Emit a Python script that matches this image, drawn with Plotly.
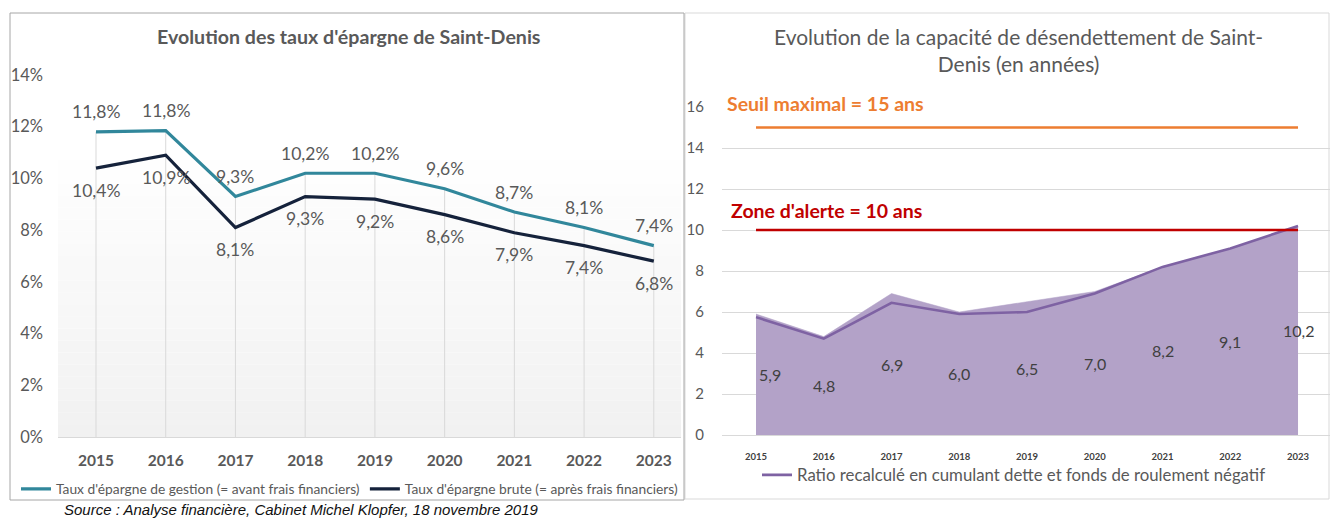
import plotly.graph_objects as go

# ---------------- data ----------------
years = [2015, 2016, 2017, 2018, 2019, 2020, 2021, 2022, 2023]

# left chart: savings rates (%)
taux_gestion = [11.8, 11.85, 9.3, 10.2, 10.2, 9.6, 8.7, 8.1, 7.4]
taux_brute = [10.4, 10.9, 8.1, 9.3, 9.2, 8.6, 7.9, 7.4, 6.8]
labels_gestion = [11.8, 11.8, 9.3, 10.2, 10.2, 9.6, 8.7, 8.1, 7.4]
labels_brute = [10.4, 10.9, 8.1, 9.3, 9.2, 8.6, 7.9, 7.4, 6.8]
left_yticks = [0, 2, 4, 6, 8, 10, 12, 14]

# right chart: debt reduction capacity (years)
ratio_area = [5.9, 4.8, 6.9, 6.0, 6.5, 7.0, 8.2, 9.1, 10.2]
ratio_line = [5.75, 4.7, 6.45, 5.9, 6.0, 6.9, 8.2, 9.1, 10.2]
seuil_maximal = 15
zone_alerte = 10
right_yticks = [0, 2, 4, 6, 8, 10, 12, 14, 16]

W, H = 1330, 519
FONT = "Lato"
GREY_TXT = "#595959"


def px_x(p):
    return p / W


def px_y(p):
    return 1 - p / H


def fr(v, pct=False):
    s = f"{v:.1f}".replace(".", ",")
    return s + ("%" if pct else "")


fig = go.Figure()

# drop lines (left)
dx, dy = [], []
for x, g in zip(years, taux_gestion):
    dx += [x, x, None]
    dy += [0, g, None]
fig.add_trace(go.Scatter(x=dx, y=dy, mode="lines", line=dict(color="#d9d9d9", width=1),
                         showlegend=False, hoverinfo="skip", xaxis="x", yaxis="y"))

fig.add_trace(go.Scatter(x=years, y=taux_gestion, mode="lines",
                         name="Taux d'épargne de gestion (= avant frais financiers)",
                         line=dict(color="#31879b", width=3.2), xaxis="x", yaxis="y",
                         legend="legend"))
fig.add_trace(go.Scatter(x=years, y=taux_brute, mode="lines",
                         name="Taux d'épargne brute (= après frais financiers)",
                         line=dict(color="#15223b", width=3.2), xaxis="x", yaxis="y",
                         legend="legend"))

# right chart
fig.add_trace(go.Scatter(x=years, y=ratio_area, mode="lines", fill="tozeroy",
                         fillcolor="#b3a2c8", line=dict(color="#b3a2c8", width=0.5),
                         showlegend=False, hoverinfo="skip", xaxis="x2", yaxis="y2"))
fig.add_trace(go.Scatter(x=years, y=ratio_line, mode="lines",
                         name="Ratio recalculé en cumulant dette et fonds de roulement négatif",
                         line=dict(color="#7e62a3", width=2.6), xaxis="x2", yaxis="y2",
                         legend="legend2"))
fig.add_trace(go.Scatter(x=years, y=[seuil_maximal] * len(years), mode="lines",
                         line=dict(color="#ed7d31", width=2.6), showlegend=False,
                         hoverinfo="skip", xaxis="x2", yaxis="y2"))
fig.add_trace(go.Scatter(x=years, y=[zone_alerte] * len(years), mode="lines",
                         line=dict(color="#c00000", width=2.6), showlegend=False,
                         hoverinfo="skip", xaxis="x2", yaxis="y2"))

annotations = []
for x, g, lg in zip(years, taux_gestion, labels_gestion):
    annotations.append(dict(x=x, y=g, xref="x", yref="y", text=fr(lg, True), showarrow=False,
                            xanchor="center", yanchor="middle", yshift=20,
                            font=dict(family=FONT, size=17.5, color=GREY_TXT)))
for x, b, lb in zip(years, taux_brute, labels_brute):
    annotations.append(dict(x=x, y=b, xref="x", yref="y", text=fr(lb, True), showarrow=False,
                            xanchor="center", yanchor="middle", yshift=-22,
                            font=dict(family=FONT, size=17.5, color=GREY_TXT)))
for i, (x, a) in enumerate(zip(years, ratio_area)):
    annotations.append(dict(x=x, y=a / 2, xref="x2", yref="y2", text=fr(a), showarrow=False,
                            xanchor="center", yanchor="middle",
                            xshift=14 if i == 0 else 0,
                            font=dict(family=FONT, size=16, color="#404040")))

annotations += [
    dict(x=px_x(348), y=px_y(37), xref="paper", yref="paper", showarrow=False,
         xanchor="center", yanchor="middle",
         text="<b>Evolution des taux d'épargne de Saint-Denis</b>",
         font=dict(family=FONT, size=19.6, color=GREY_TXT)),
    dict(x=px_x(1018), y=px_y(50), xref="paper", yref="paper", showarrow=False,
         xanchor="center", yanchor="middle",
         text="Evolution de la capacité de désendettement de Saint-<br>Denis (en années)",
         font=dict(family=FONT, size=21, color=GREY_TXT)),
    dict(x=px_x(725), y=px_y(103), xref="paper", yref="paper", showarrow=False,
         xanchor="left", yanchor="middle",
         text="<b>Seuil maximal = 15 ans</b>", font=dict(family=FONT, size=19.5, color="#ed7d31")),
    dict(x=px_x(729), y=px_y(210), xref="paper", yref="paper", showarrow=False,
         xanchor="left", yanchor="middle",
         text="<b>Zone d'alerte = 10 ans</b>", font=dict(family=FONT, size=19.5, color="#c00000")),
    dict(x=px_x(62), y=px_y(509), xref="paper", yref="paper", showarrow=False,
         xanchor="left", yanchor="middle",
         text="<i>Source : Analyse financière, Cabinet Michel Klopfer, 18 novembre 2019</i>",
         font=dict(family="Liberation Sans", size=15, color="#111111")),
]

shapes = []
# subtle gradient background in the left plot area
n = 24
for i in range(n):
    t = (i + 0.5) / n
    c = int(round(241 + (255 - 241) * t))
    shapes.append(dict(type="rect", xref="x domain", yref="y domain", x0=0, x1=1,
                       y0=0.8 * i / n, y1=0.8 * (i + 1) / n, layer="below",
                       fillcolor=f"rgb({c},{c},{c})", line=dict(width=0)))
# chart boxes
shapes.append(dict(type="rect", xref="paper", yref="paper", x0=px_x(685), x1=px_x(1329),
                   y0=px_y(499), y1=px_y(13), line=dict(color="#d9d9d9", width=1)))
shapes.append(dict(type="rect", xref="paper", yref="paper", x0=px_x(10), x1=px_x(684),
                   y0=px_y(500), y1=px_y(13), line=dict(color="#a6a6a6", width=1),
                   fillcolor="rgba(0,0,0,0)"))

fig.update_layout(
    width=W, height=H, margin=dict(l=0, r=0, t=0, b=0, autoexpand=False),
    paper_bgcolor="white", plot_bgcolor="rgba(0,0,0,0)",
    font=dict(family=FONT, color=GREY_TXT),
    xaxis=dict(domain=[px_x(58), px_x(681)], range=[2014.455, 2023.39], tickmode="array",
               tickvals=years, ticktext=[str(y) for y in years], showgrid=False,
               zeroline=False, showline=True, linecolor="#d9d9d9", linewidth=1,
               ticks="", ticklabelstandoff=9, automargin=False,
               tickfont=dict(family=FONT, size=15.5, color=GREY_TXT, weight="bold")),
    yaxis=dict(domain=[px_y(437), px_y(75)], range=[0, 14], tickmode="array",
               tickvals=left_yticks, ticktext=[f"{v}%" for v in left_yticks],
               showgrid=False, zeroline=False, showline=False, ticks="", automargin=False,
               ticklabelstandoff=14, tickfont=dict(family=FONT, size=16.5, color=GREY_TXT)),
    xaxis2=dict(domain=[px_x(722), 1.0], range=[2014.498, 2023.472], tickmode="array",
                tickvals=years, ticktext=[str(y) for y in years], showgrid=False,
                zeroline=False, showline=False, ticks="", ticklabelstandoff=14,
                anchor="y2", automargin=False,
                tickfont=dict(family=FONT, size=9.5, color="#404040", weight="bold")),
    yaxis2=dict(domain=[px_y(435), px_y(107)], range=[0, 16], tickmode="array",
                tickvals=right_yticks, showgrid=True, gridcolor="#d9d9d9", gridwidth=1,
                zeroline=True, zerolinecolor="#d9d9d9", zerolinewidth=1, showline=False,
                ticks="", ticklabelstandoff=17, anchor="x2", automargin=False,
                tickfont=dict(family=FONT, size=15, color=GREY_TXT)),
    legend=dict(orientation="h", x=px_x(16), y=px_y(489), xanchor="left", yanchor="middle",
                bgcolor="rgba(0,0,0,0)", font=dict(family=FONT, size=13.8, color=GREY_TXT),
                itemwidth=30),
    legend2=dict(orientation="h", x=px_x(757), y=px_y(475), xanchor="left", yanchor="middle",
                 bgcolor="rgba(0,0,0,0)", font=dict(family=FONT, size=16.8, color=GREY_TXT),
                 itemwidth=30),
    annotations=annotations,
    shapes=shapes,
    hovermode=False,
)

fig.write_html("out.html", post_script="document.body.style.margin='0';",
               config={"displayModeBar": False})
